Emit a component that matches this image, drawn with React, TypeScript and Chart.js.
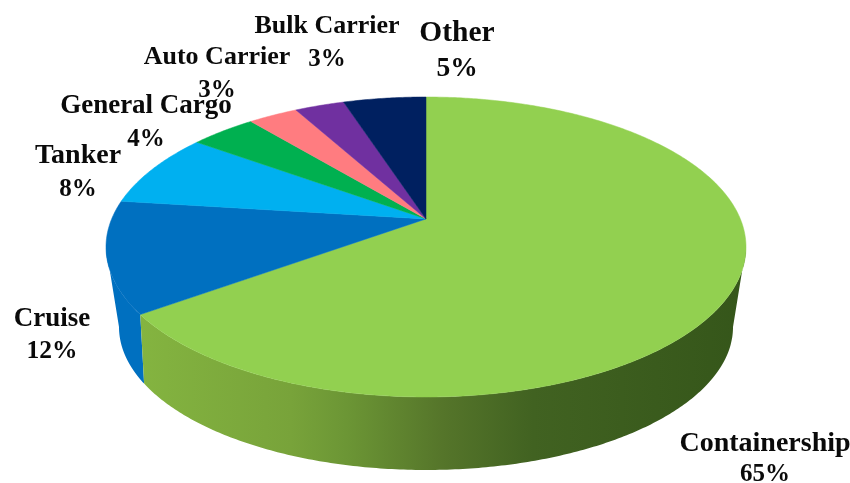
import React, { useEffect, useRef } from "react";
import { Chart, registerables } from "chart.js";

Chart.register(...registerables);

const categories = ["Containership", "Cruise", "Tanker", "General Cargo", "Auto Carrier", "Bulk Carrier", "Other"];
const shares = [65, 12, 8, 4, 3, 3, 5];
const sliceColors = ["#92d050", "#0070c0", "#00b0f0", "#00b050", "#ff7c80", "#7030a0", "#002060"];

// Label anchors: centre x, name baseline, percent baseline, name font size, percent font size.
const labelAnchors = [
  [765, 451, 481, 28, 25],
  [52, 326, 358, 27, 25.5],
  [78, 163, 196, 28, 25],
  [146, 113, 146, 27, 25],
  [217, 64, 97, 26, 25],
  [327, 33, 66, 26, 25],
  [457, 41, 76, 29.5, 27.5],
];

// Tilted disc faces: ellipse centre and radii, plus the perspective shift of the disc's centre.
const topFace = { cx: 426, cy: 247, rx: 320, ry: 150, shift: -0.187 };
const bottomFace = { cx: 426, cy: 327, rx: 307, ry: 143, shift: -0.25 };

const wallStops: [number, string][] = [
  [0, "#84b440"],
  [0.25, "#78a33a"],
  [0.34, "#6c9635"],
  [0.5, "#55752a"],
  [0.65, "#416221"],
  [1, "#35561a"],
];

type Face = typeof topFace;

// Projects a point of the unit disc onto a tilted face.
function project(face: Face, x: number, y: number): [number, number] {
  const a = face.shift;
  const d = 1 + a * y;
  const nx = (x * Math.sqrt(1 - a * a)) / d;
  const ny = (y + a) / d;
  return [face.cx + nx * face.rx, face.cy + ny * face.ry];
}

function rimPoints(face: Face, start: number, end: number): [number, number][] {
  const steps = Math.max(2, Math.ceil((end - start) / 0.01));
  const pts: [number, number][] = [];
  for (let i = 0; i <= steps; i++) {
    const t = start + ((end - start) * i) / steps;
    pts.push(project(face, Math.cos(t), Math.sin(t)));
  }
  return pts;
}

// The part of a slice's rim that faces the viewer on one face of the disc,
// running between the two horizontal extremes of that face's ellipse.
function frontRim(face: Face, start: number, end: number): [number, number][] {
  const edge = Math.asin(-face.shift);
  const from = Math.max(start, edge);
  const to = Math.min(end, Math.PI - edge);
  return to > from ? rimPoints(face, from, to) : [];
}

const tiltedPie = {
  id: "tiltedPie",
  beforeDatasetDraw(chart: any) {
    const ctx: CanvasRenderingContext2D = chart.ctx;
    const arcs = chart.getDatasetMeta(0).data;

    // Side walls, back to front so the largest slice sits on top.
    for (let i = arcs.length - 1; i >= 0; i--) {
      const { startAngle, endAngle } = arcs[i];
      const upper = frontRim(topFace, startAngle, endAngle);
      const lower = frontRim(bottomFace, startAngle, endAngle).reverse();
      if (!upper.length || !lower.length) continue;
      ctx.beginPath();
      [...upper, ...lower].forEach(([x, y], k) => (k ? ctx.lineTo(x, y) : ctx.moveTo(x, y)));
      ctx.closePath();
      if (i === 0) {
        const g = ctx.createLinearGradient(140, 0, 745, 0);
        wallStops.forEach(([o, c]) => g.addColorStop(o, c));
        ctx.fillStyle = g;
      } else {
        ctx.fillStyle = sliceColors[i];
      }
      ctx.fill();
    }

    // Upper face of every slice, from the angles the pie controller computed.
    const apex = project(topFace, 0, 0);
    arcs.forEach((arc: any, i: number) => {
      ctx.beginPath();
      ctx.moveTo(apex[0], apex[1]);
      rimPoints(topFace, arc.startAngle, arc.endAngle).forEach(([x, y]) => ctx.lineTo(x, y));
      ctx.closePath();
      ctx.fillStyle = sliceColors[i];
      ctx.strokeStyle = sliceColors[i];
      ctx.lineWidth = 0.5;
      ctx.fill();
      ctx.stroke();
    });
    return false;
  },
  afterDatasetsDraw(chart: any) {
    const ctx: CanvasRenderingContext2D = chart.ctx;
    ctx.save();
    ctx.fillStyle = "#0a0a0a";
    ctx.textAlign = "center";
    ctx.textBaseline = "alphabetic";
    categories.forEach((name, i) => {
      const [x, nameY, pctY, nameSize, pctSize] = labelAnchors[i];
      ctx.font = `bold ${nameSize}px "Liberation Serif", serif`;
      ctx.fillText(name, x, nameY);
      ctx.font = `bold ${pctSize}px "Liberation Serif", serif`;
      ctx.fillText(`${shares[i]}%`, x, pctY);
    });
    ctx.restore();
  },
};

export default function App() {
  const canvasRef = useRef<HTMLCanvasElement>(null);

  useEffect(() => {
    const chart = new Chart(canvasRef.current!, {
      type: "pie",
      data: {
        labels: categories,
        datasets: [{ data: shares, backgroundColor: sliceColors, borderWidth: 0 }],
      },
      options: {
        animation: false,
        responsive: false,
        events: [],
        plugins: { legend: { display: false }, tooltip: { enabled: false } },
      },
      plugins: [tiltedPie],
    });
    return () => chart.destroy();
  }, []);

  return (
    <div style={{ position: "fixed", left: 0, top: 0, width: 850, height: 483, background: "#fff" }}>
      <canvas ref={canvasRef} width={850} height={483} style={{ display: "block" }} />
    </div>
  );
}
